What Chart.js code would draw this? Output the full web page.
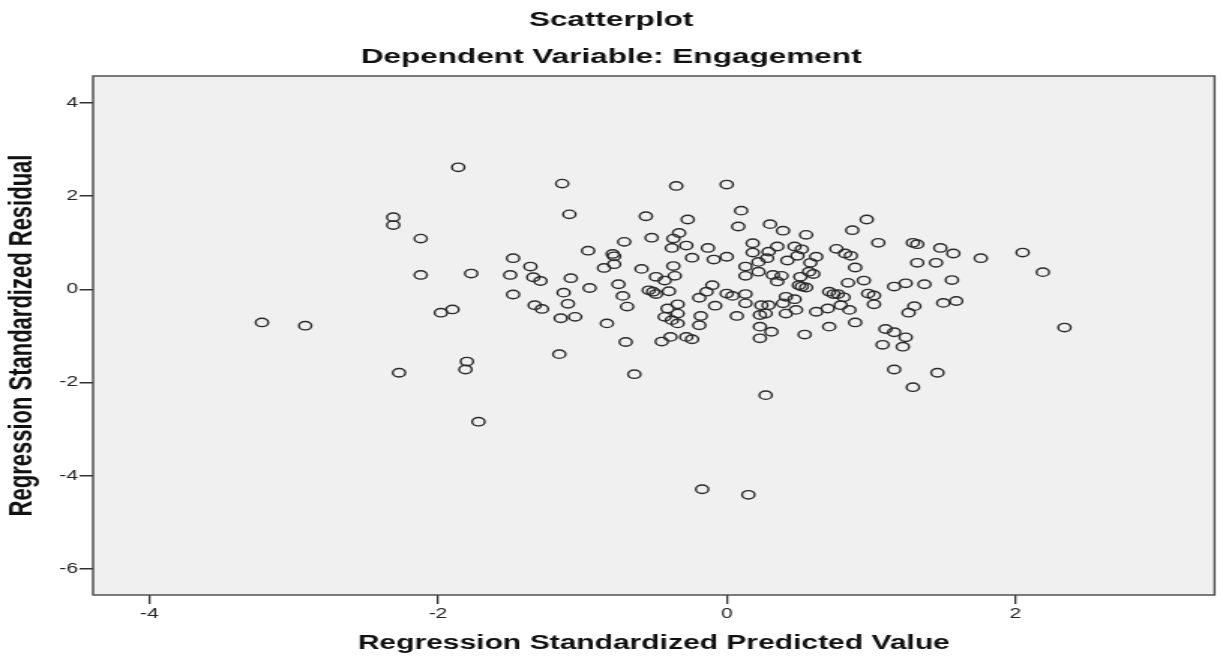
<!DOCTYPE html>
<html>
<head>
<meta charset="utf-8">
<title>Scatterplot</title>
<script src="https://cdn.jsdelivr.net/npm/chart.js@4/dist/chart.umd.min.js"></script>
<style>
  html, body { margin: 0; padding: 0; background: #fff; overflow: hidden; }
  /* the original SPSS picture is stretched sideways, so the chart is too */
  #wrap { width: 815px; height: 659px; transform: scaleX(1.5006); transform-origin: 0 0; }
</style>
</head>
<body>
<div id="wrap"><canvas id="myChart" width="815" height="659"></canvas></div>
<script>
// Regression Standardized Predicted Value (x) and Residual (y)
const predicted = [
  -2.31, -2.31, -3.22, -2.92, -2.27,
  -1.86, -1.14, -1.09, -2.12, -2.12, -1.77, -1.48, -1.50, -1.36, -1.34, -1.29, -1.48,
  -1.98, -1.90, -1.33, -1.28, -1.15, -1.05, -1.13, -1.10, -1.08, -0.95, -0.96, -0.83,
  -1.16, -1.80, -1.81, -0.85, -0.79, -0.78, -0.78, -0.75, -0.72,
  -0.35, 0.00, 0.10, 0.08, -0.56, -0.27, -0.71, -0.52, -0.33, -0.37, -0.38, -0.28,
  -0.24, -0.13, -0.09, 0.00, -0.59, -0.37, -0.49, -0.36, -0.43, -0.69, -0.70, -0.64,
  -0.54, -0.51, -0.49, -0.40, -0.41, -0.34, -0.43, -0.34, -0.38, -0.34, -0.45, -0.39,
  -0.28, -0.24, -0.19, -0.14, -0.10, -0.18, -0.19, -0.08, 0.00, 0.04, 0.07, 0.13,
  0.13, 0.13, 0.13, 0.18, 0.18, 0.22, 0.22, 0.29, 0.28, 0.35, 0.30, 0.39, 0.55,
  0.47, 0.49, 0.42, 0.32, 0.35, 0.38, 0.51, 0.52, 0.24, 0.29, 0.23, 0.27, 0.23,
  0.31, 0.23, 0.39, 0.41, 0.47, 0.41, 0.48, 0.54,
  0.97, 0.87, 1.05, 1.29, 1.32, 1.48, 1.57, 1.76, 1.32, 1.45, 1.56, 1.37, 1.24,
  1.16, 1.59, 1.50, 1.30, 1.26, 1.10, 1.16, 1.24, 1.22, 1.08, 1.16, 1.46, 1.29,
  0.76, 0.82, 0.86, 0.89, 0.62, 0.58, 0.52, 0.57, 0.60, 0.50, 0.55, 0.84, 0.95,
  0.71, 0.74, 0.77, 0.81, 0.98, 1.02, 1.02, 0.70, 0.79, 0.85, 0.62, 0.89, 0.71,
  2.05, 2.19, 2.34,
  -0.17, 0.15, 0.27, -1.72
];
const residual = [
  1.55, 1.38, -0.71, -0.78, -1.79,
  2.62, 2.27, 1.61, 1.09, 0.31, 0.34, 0.67, 0.31, 0.49, 0.26, 0.18, -0.11,
  -0.50, -0.43, -0.34, -0.42, -0.62, -0.59, -0.07, -0.31, 0.24, 0.03, 0.83, -0.73,
  -1.39, -1.55, -1.72, 0.46, 0.76, 0.71, 0.54, 0.11, -0.14,
  2.22, 2.25, 1.69, 1.35, 1.57, 1.50, 1.02, 1.11, 1.21, 1.09, 0.89, 0.94,
  0.68, 0.89, 0.64, 0.70, 0.44, 0.50, 0.27, 0.29, 0.19, -0.37, -1.13, -1.82,
  -0.02, -0.05, -0.10, -0.04, -0.41, -0.32, -0.59, -0.52, -0.66, -0.73, -1.12, -1.02,
  -1.02, -1.07, -0.18, -0.05, 0.09, -0.57, -0.77, -0.35, -0.09, -0.14, -0.57, -0.10,
  -0.30, 0.49, 0.29, 0.99, 0.79, 0.59, 0.38, 0.81, 0.67, 0.92, 1.40, 1.26, 1.17,
  0.92, 0.72, 0.62, 0.31, 0.17, 0.29, 0.27, 0.06, -0.34, -0.34, -0.55, -0.52, -0.80,
  -0.91, -1.05, -0.30, -0.16, -0.21, -0.52, -0.44, -0.97,
  1.50, 1.27, 1.00, 1.00, 0.97, 0.89, 0.77, 0.67, 0.57, 0.57, 0.20, 0.11, 0.13,
  0.06, -0.25, -0.29, -0.36, -0.50, -0.85, -0.92, -1.03, -1.23, -1.19, -1.72, -1.79, -2.10,
  0.87, 0.77, 0.72, 0.47, 0.70, 0.57, 0.86, 0.38, 0.33, 0.09, 0.04, 0.14, 0.19,
  -0.05, -0.10, -0.10, -0.17, -0.09, -0.13, -0.32, -0.41, -0.34, -0.44, -0.48, -0.71, -0.80,
  0.79, 0.37, -0.82,
  -4.29, -4.41, -2.27, -2.84
];

const xTicks = [-4, -2, 0, 2];
const yTicks = [4, 2, 0, -2, -4, -6];

const titleText = 'Scatterplot';
const subtitleText = 'Dependent Variable: Engagement';
const xTitle = 'Regression Standardized Predicted Value';
const yTitle = 'Regression Standardized Residual';

const fam = "'Liberation Sans', Arial, sans-serif";

const points = predicted.map((x, i) => ({ x: x, y: residual[i] }));

// grey plot background and the box round it
const plotFrame = {
  id: 'plotFrame',
  beforeDraw(chart) {
    const { ctx, chartArea: a } = chart;
    ctx.save();
    ctx.fillStyle = '#f0f0f0';
    ctx.fillRect(a.left, a.top, a.right - a.left, a.bottom - a.top);
    ctx.restore();
  },
  afterDraw(chart) {
    const { ctx, chartArea: a } = chart;
    ctx.save();
    ctx.strokeStyle = '#454545';
    ctx.lineWidth = 1.4;
    ctx.strokeRect(a.left, a.top, a.right - a.left, a.bottom - a.top);
    ctx.restore();
  }
};

var config = {
  type: 'scatter',
  data: {
    datasets: [{
      label: 'Residual',
      data: points,
      pointStyle: 'circle',
      pointRadius: 4.2,
      pointHoverRadius: 4.2,
      borderWidth: 1.4,
      borderColor: '#2a2a2a',
      backgroundColor: 'rgba(0,0,0,0)'
    }]
  },
  options: {
    responsive: false,
    animation: false,
    layout: { padding: { left: 0, right: 0.5, top: 0, bottom: 0 } },
    plugins: {
      legend: { display: false },
      tooltip: { enabled: false },
      title: {
        display: true,
        text: titleText,
        color: '#111',
        font: { family: fam, size: 21, weight: 'bold' },
        padding: { top: 7.4, bottom: 0 }
      },
      subtitle: {
        display: true,
        text: subtitleText,
        color: '#111',
        font: { family: fam, size: 21, weight: 'bold' },
        padding: { top: 11.8, bottom: 6.4 }
      }
    },
    scales: {
      x: {
        type: 'linear',
        position: 'bottom',
        min: -4.39,
        max: 3.38,
        afterBuildTicks: (axis) => { axis.ticks = xTicks.map(v => ({ value: v })); },
        afterFit: (axis) => { axis.height = 64; },
        grid: { display: true, drawOnChartArea: false, drawTicks: true, tickLength: 9, color: '#333', lineWidth: 1.3 },
        border: { display: false },
        ticks: { color: '#222', padding: 2, maxRotation: 0, font: { family: fam, size: 14 } },
        title: {
          display: true,
          text: xTitle,
          color: '#111',
          font: { family: fam, size: 20, weight: 'bold' },
          padding: { top: 0, bottom: 4 }
        }
      },
      y: {
        type: 'linear',
        position: 'left',
        min: -6.56,
        max: 4.58,
        afterBuildTicks: (axis) => { axis.ticks = yTicks.map(v => ({ value: v })); },
        afterFit: (axis) => { axis.width = 62; },
        grid: { display: true, drawOnChartArea: false, drawTicks: true, tickLength: 9, color: '#333', lineWidth: 1.5 },
        border: { display: false },
        ticks: { color: '#222', padding: 1, font: { family: fam, size: 14 } },
        title: {
          display: true,
          text: yTitle,
          color: '#111',
          font: { family: fam, size: 22, weight: 'bold' },
          padding: { top: 1.5, bottom: 0 }
        }
      }
    }
  },
  plugins: [plotFrame]
};

var myChart = new Chart(document.getElementById('myChart'), config);
</script>
</body>
</html>
